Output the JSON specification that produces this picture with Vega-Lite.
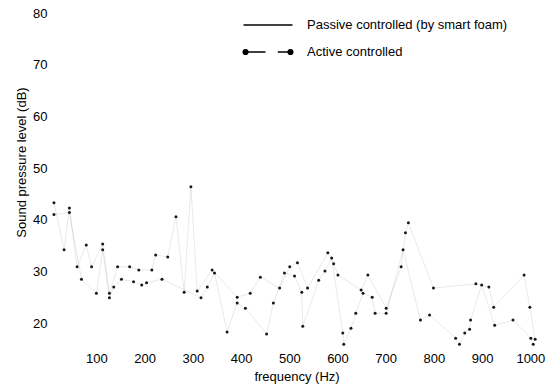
{
  "$schema": "https://vega.github.io/schema/vega-lite/v6.json",
  "width": 487,
  "height": 336,
  "autosize": {"type": "none"},
  "padding": {"left": 53, "top": 13, "right": 10, "bottom": 38},
  "background": "white",
  "config": {
    "view": {"stroke": null},
    "font": "Liberation Sans",
    "axis": {"domain": false, "ticks": false, "tickSize": 0, "grid": false, "labelFontSize": 13, "labelColor": "black", "titleFontSize": 13, "titleFontWeight": "normal", "titleColor": "black"}
  },
  "datasets": {
    "curves": [
      {"series": "Passive controlled (by smart foam)", "frequency": 12, "spl": 43.3},
      {"series": "Passive controlled (by smart foam)", "frequency": 33, "spl": 34.2},
      {"series": "Passive controlled (by smart foam)", "frequency": 44, "spl": 42.3},
      {"series": "Passive controlled (by smart foam)", "frequency": 60, "spl": 30.9},
      {"series": "Passive controlled (by smart foam)", "frequency": 79, "spl": 35.1},
      {"series": "Passive controlled (by smart foam)", "frequency": 90, "spl": 30.9},
      {"series": "Passive controlled (by smart foam)", "frequency": 113, "spl": 35.3},
      {"series": "Passive controlled (by smart foam)", "frequency": 127, "spl": 25.8},
      {"series": "Passive controlled (by smart foam)", "frequency": 144, "spl": 30.9},
      {"series": "Passive controlled (by smart foam)", "frequency": 169, "spl": 30.9},
      {"series": "Passive controlled (by smart foam)", "frequency": 188, "spl": 30.3},
      {"series": "Passive controlled (by smart foam)", "frequency": 215, "spl": 30.3},
      {"series": "Passive controlled (by smart foam)", "frequency": 223, "spl": 33.2},
      {"series": "Passive controlled (by smart foam)", "frequency": 248, "spl": 32.8},
      {"series": "Passive controlled (by smart foam)", "frequency": 265, "spl": 40.6},
      {"series": "Passive controlled (by smart foam)", "frequency": 282, "spl": 26.0},
      {"series": "Passive controlled (by smart foam)", "frequency": 296, "spl": 46.4},
      {"series": "Passive controlled (by smart foam)", "frequency": 309, "spl": 26.2},
      {"series": "Passive controlled (by smart foam)", "frequency": 340, "spl": 30.3},
      {"series": "Passive controlled (by smart foam)", "frequency": 392, "spl": 25.0},
      {"series": "Passive controlled (by smart foam)", "frequency": 419, "spl": 25.8},
      {"series": "Passive controlled (by smart foam)", "frequency": 440, "spl": 28.9},
      {"series": "Passive controlled (by smart foam)", "frequency": 480, "spl": 26.8},
      {"series": "Passive controlled (by smart foam)", "frequency": 501, "spl": 30.9},
      {"series": "Passive controlled (by smart foam)", "frequency": 517, "spl": 31.7},
      {"series": "Passive controlled (by smart foam)", "frequency": 538, "spl": 26.8},
      {"series": "Passive controlled (by smart foam)", "frequency": 580, "spl": 33.6},
      {"series": "Passive controlled (by smart foam)", "frequency": 592, "spl": 31.5},
      {"series": "Passive controlled (by smart foam)", "frequency": 601, "spl": 29.3},
      {"series": "Passive controlled (by smart foam)", "frequency": 649, "spl": 26.4},
      {"series": "Passive controlled (by smart foam)", "frequency": 663, "spl": 29.3},
      {"series": "Passive controlled (by smart foam)", "frequency": 701, "spl": 22.9},
      {"series": "Passive controlled (by smart foam)", "frequency": 732, "spl": 30.9},
      {"series": "Passive controlled (by smart foam)", "frequency": 741, "spl": 37.5},
      {"series": "Passive controlled (by smart foam)", "frequency": 747, "spl": 39.4},
      {"series": "Passive controlled (by smart foam)", "frequency": 799, "spl": 26.8},
      {"series": "Passive controlled (by smart foam)", "frequency": 887, "spl": 27.6},
      {"series": "Passive controlled (by smart foam)", "frequency": 914, "spl": 27.0},
      {"series": "Passive controlled (by smart foam)", "frequency": 924, "spl": 23.1},
      {"series": "Passive controlled (by smart foam)", "frequency": 987, "spl": 29.3},
      {"series": "Passive controlled (by smart foam)", "frequency": 999, "spl": 23.1},
      {"series": "Passive controlled (by smart foam)", "frequency": 1010, "spl": 16.9},
      {"series": "Active controlled", "frequency": 12, "spl": 41.0},
      {"series": "Active controlled", "frequency": 44, "spl": 41.4},
      {"series": "Active controlled", "frequency": 69, "spl": 28.5},
      {"series": "Active controlled", "frequency": 100, "spl": 25.8},
      {"series": "Active controlled", "frequency": 113, "spl": 34.2},
      {"series": "Active controlled", "frequency": 127, "spl": 24.9},
      {"series": "Active controlled", "frequency": 136, "spl": 27.0},
      {"series": "Active controlled", "frequency": 152, "spl": 28.5},
      {"series": "Active controlled", "frequency": 177, "spl": 28.0},
      {"series": "Active controlled", "frequency": 194, "spl": 27.4},
      {"series": "Active controlled", "frequency": 204, "spl": 27.8},
      {"series": "Active controlled", "frequency": 236, "spl": 28.5},
      {"series": "Active controlled", "frequency": 317, "spl": 24.9},
      {"series": "Active controlled", "frequency": 330, "spl": 27.0},
      {"series": "Active controlled", "frequency": 345, "spl": 29.7},
      {"series": "Active controlled", "frequency": 371, "spl": 18.3},
      {"series": "Active controlled", "frequency": 392, "spl": 23.9},
      {"series": "Active controlled", "frequency": 409, "spl": 22.9},
      {"series": "Active controlled", "frequency": 453, "spl": 17.9},
      {"series": "Active controlled", "frequency": 467, "spl": 23.9},
      {"series": "Active controlled", "frequency": 490, "spl": 29.7},
      {"series": "Active controlled", "frequency": 511, "spl": 29.1},
      {"series": "Active controlled", "frequency": 526, "spl": 26.0},
      {"series": "Active controlled", "frequency": 528, "spl": 19.4},
      {"series": "Active controlled", "frequency": 561, "spl": 28.3},
      {"series": "Active controlled", "frequency": 574, "spl": 30.1},
      {"series": "Active controlled", "frequency": 588, "spl": 32.6},
      {"series": "Active controlled", "frequency": 611, "spl": 18.1},
      {"series": "Active controlled", "frequency": 613, "spl": 15.9},
      {"series": "Active controlled", "frequency": 628, "spl": 19.0},
      {"series": "Active controlled", "frequency": 638, "spl": 21.9},
      {"series": "Active controlled", "frequency": 653, "spl": 25.8},
      {"series": "Active controlled", "frequency": 672, "spl": 25.0},
      {"series": "Active controlled", "frequency": 678, "spl": 21.9},
      {"series": "Active controlled", "frequency": 701, "spl": 21.9},
      {"series": "Active controlled", "frequency": 736, "spl": 34.2},
      {"series": "Active controlled", "frequency": 772, "spl": 20.6},
      {"series": "Active controlled", "frequency": 791, "spl": 21.6},
      {"series": "Active controlled", "frequency": 845, "spl": 17.1},
      {"series": "Active controlled", "frequency": 853, "spl": 15.9},
      {"series": "Active controlled", "frequency": 864, "spl": 18.1},
      {"series": "Active controlled", "frequency": 874, "spl": 18.8},
      {"series": "Active controlled", "frequency": 876, "spl": 20.6},
      {"series": "Active controlled", "frequency": 899, "spl": 27.4},
      {"series": "Active controlled", "frequency": 926, "spl": 19.6},
      {"series": "Active controlled", "frequency": 964, "spl": 20.6},
      {"series": "Active controlled", "frequency": 1001, "spl": 17.1},
      {"series": "Active controlled", "frequency": 1006, "spl": 15.9}
    ]
  },
  "data": {"name": "curves"},
  "encoding": {
    "x": {
      "field": "frequency", "type": "quantitative",
      "scale": {"domain": [10, 1020], "nice": false, "zero": false},
      "axis": {"values": [100, 200, 300, 400, 500, 600, 700, 800, 900, 1000], "format": "d", "labelPadding": 3, "titlePadding": 5, "labelFlush": false, "labelOverlap": false},
      "title": "frequency (Hz)"
    },
    "y": {
      "field": "spl", "type": "quantitative",
      "scale": {"domain": [15, 80], "nice": false, "zero": false},
      "axis": {"values": [20, 30, 40, 50, 60, 70, 80], "labelPadding": 6, "titleX": -25, "titleY": 149},
      "title": "Sound pressure level (dB)"
    }
  },
  "layer": [
    {
      "mark": {"type": "line", "strokeWidth": 1, "opacity": 0.09},
      "encoding": {
        "color": {
          "field": "series", "type": "nominal",
          "scale": {"domain": ["Passive controlled (by smart foam)", "Active controlled"], "range": ["#000000", "#000000"]},
          "legend": {
            "orient": "none", "legendX": 208, "legendY": 5, "title": null, "padding": 0,
            "symbolType": "M-4,0H4", "symbolSize": 150, "symbolStrokeWidth": 1.5, "symbolOpacity": 1,
            "labelFontSize": 13, "labelOffset": 32, "labelColor": "black", "labelLimit": 400, "rowPadding": 13,
            "encode": {
              "symbols": {
                "update": {
                  "shape": [
                    {"test": "datum.value === 'Active controlled'", "value": "M-4.05,0A0.38,0.38,0,1,1,-3.29,0A0.38,0.38,0,1,1,-4.05,0M-3.29,0H-0.41M1.6,0H3.29M3.29,0A0.38,0.38,0,1,1,4.05,0A0.38,0.38,0,1,1,3.29,0"},
                    {"value": "M-4,0H4"}
                  ],
                  "fill": {"value": "black"},
                  "stroke": {"value": "black"},
                  "opacity": {"value": 1}
                }
              }
            }
          }
        }
      }
    },
    {
      "mark": {"type": "point", "filled": true, "size": 9, "opacity": 0.9, "color": "black"},
      "encoding": {"detail": {"field": "series", "type": "nominal"}}
    }
  ]
}
